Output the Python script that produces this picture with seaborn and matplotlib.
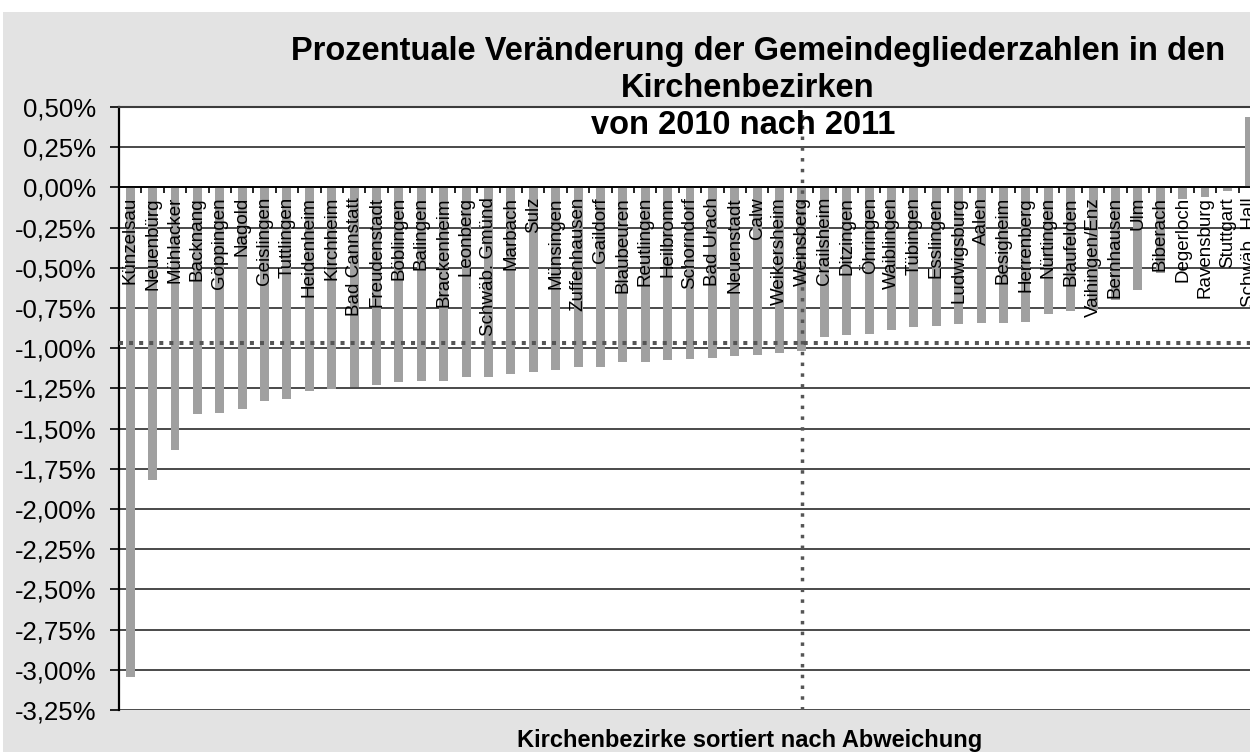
import matplotlib
matplotlib.use("Agg")
import matplotlib.pyplot as plt
from matplotlib.patches import Rectangle
from matplotlib.ticker import FixedLocator, FixedFormatter
import seaborn as sns
import pandas as pd

# ---------------- data ----------------
districts = [
    "Künzelsau", "Neuenbürg", "Mühlacker", "Backnang", "Göppingen", "Nagold",
    "Geislingen", "Tuttlingen", "Heidenheim", "Kirchheim", "Bad Cannstatt",
    "Freudenstadt", "Böblingen", "Balingen", "Brackenheim", "Leonberg",
    "Schwäb. Gmünd", "Marbach", "Sulz", "Münsingen", "Zuffenhausen", "Gaildorf",
    "Blaubeuren", "Reutlingen", "Heilbronn", "Schorndorf", "Bad Urach",
    "Neuenstadt", "Calw", "Weikersheim", "Weinsberg", "Crailsheim", "Ditzingen",
    "Öhringen", "Waiblingen", "Tübingen", "Esslingen", "Ludwigsburg", "Aalen",
    "Besigheim", "Herrenberg", "Nürtingen", "Blaufelden", "Vaihingen/Enz",
    "Bernhausen", "Ulm", "Biberach", "Degerloch", "Ravensburg", "Stuttgart",
    "Schwäb. Hall",
]
change_pct = [
    -3.045, -1.822, -1.636, -1.407, -1.402, -1.381,
    -1.331, -1.316, -1.267, -1.252, -1.242,
    -1.231, -1.211, -1.205, -1.203, -1.180,
    -1.176, -1.163, -1.149, -1.134, -1.118, -1.116,
    -1.087, -1.085, -1.076, -1.070, -1.061,
    -1.051, -1.045, -1.030, -1.015, -0.929, -0.920,
    -0.914, -0.889, -0.869, -0.862, -0.852, -0.845,
    -0.843, -0.835, -0.786, -0.771, -0.760,
    -0.700, -0.636, -0.530, -0.070, -0.060, -0.020,
    0.440,
]
average_pct = -0.965
marker_district = "Weinsberg"
y_ticks = [0.50, 0.25, 0.00, -0.25, -0.50, -0.75, -1.00, -1.25, -1.50,
           -1.75, -2.00, -2.25, -2.50, -2.75, -3.00, -3.25]
y_tick_labels = [f"{v:.2f}%".replace(".", ",") for v in y_ticks]
title_lines = ["Prozentuale Veränderung der Gemeindegliederzahlen in den",
               "Kirchenbezirken", "von 2010 nach 2011"]
x_title = "Kirchenbezirke sortiert nach Abweichung"

df = pd.DataFrame({"Kirchenbezirk": districts, "Veränderung": change_pct})

# ---------------- figure ----------------
plt.rcParams["font.family"] = ["Liberation Sans", "DejaVu Sans"]
W, H = 1250, 752
fig = plt.figure(figsize=(W / 100, H / 100), dpi=100, facecolor="white")
fig.patches.append(Rectangle((3 / W, 0), 1, (H - 12) / H, transform=fig.transFigure,
                             facecolor="#e3e3e3", edgecolor="none", zorder=-10))

left_px, right_px, top_px, bot_px = 119, 1261, 107, 710
ax = fig.add_axes([left_px / W, (H - bot_px) / H,
                   (right_px - left_px) / W, (bot_px - top_px) / H])
ax.set_facecolor("white")

sns.barplot(data=df, x="Kirchenbezirk", y="Veränderung", order=districts,
            color="#a0a0a0", saturation=1, width=0.4, ax=ax)

n = len(districts)
ax.set_xlim(-0.5, n - 0.5)
ax.set_ylim(min(y_ticks), max(y_ticks))

# y axis
ax.yaxis.set_major_locator(FixedLocator(y_ticks))
ax.yaxis.set_major_formatter(FixedFormatter(y_tick_labels))
ax.tick_params(axis="y", which="major", direction="out", length=6.5, width=1.2,
               color="black", pad=10, labelsize=18.5, labelcolor="black")
ax.yaxis.grid(True, color="#3c3c3c", linewidth=1.3)
ax.yaxis.set_zorder(0.5)

# x axis at zero, labels rotated
ax.spines["bottom"].set_position(("data", 0))
ax.spines["bottom"].set_color("black")
ax.spines["bottom"].set_linewidth(1.3)
ax.spines["left"].set_color("black")
ax.spines["left"].set_linewidth(1.6)
ax.spines["top"].set_color("#3c3c3c")
ax.spines["top"].set_linewidth(1.5)
ax.spines["right"].set_visible(False)
ax.xaxis.set_zorder(5)
ax.set_xticks(range(n))
ax.set_xticklabels(districts, rotation=90, fontsize=13.5)
ax.set_xticks([i - 0.5 for i in range(n + 1)], minor=True)
ax.tick_params(axis="x", which="major", length=0, pad=7)
ax.tick_params(axis="x", which="minor", direction="out", length=4.5, width=1.2,
               color="black")
ax.set_xlabel("")
ax.set_ylabel("")

# reference lines
ax.axhline(average_pct, color="#555555", linewidth=2.9, linestyle=(0, (1, 1.5)),
           zorder=3)
ax.axvline(districts.index(marker_district), color="#555555", linewidth=2.5,
           linestyle=(0, (1, 2.1)), zorder=3)

# titles
fig.text(758 / W, 1 - 60 / H, title_lines[0], ha="center", va="baseline",
         fontsize=23.5, fontweight="bold", zorder=10)
fig.text(748 / W, 1 - 97 / H, title_lines[1], ha="center", va="baseline",
         fontsize=23.5, fontweight="bold", zorder=10)
fig.text(743 / W, 1 - 134 / H, title_lines[2], ha="center", va="baseline",
         fontsize=23.5, fontweight="bold", zorder=10)
fig.text(750 / W, 1 - 747 / H, x_title, ha="center", va="baseline",
         fontsize=17, fontweight="bold", zorder=10)

fig.savefig("out.png", dpi=100, facecolor=fig.get_facecolor())
